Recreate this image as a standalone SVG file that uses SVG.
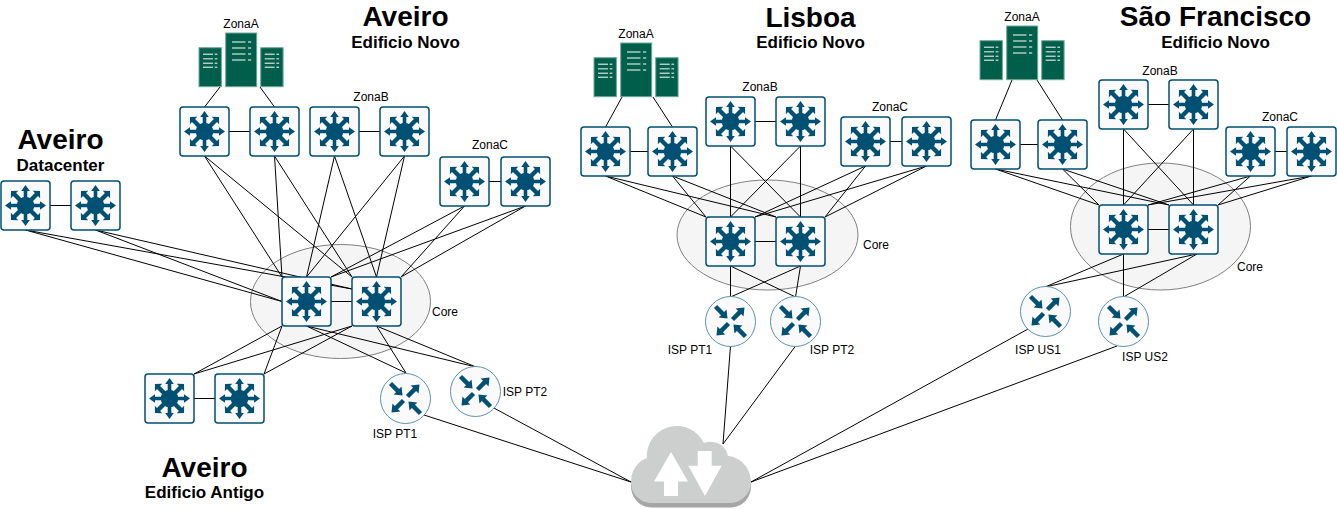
<svg xmlns="http://www.w3.org/2000/svg" xmlns:xlink="http://www.w3.org/1999/xlink" width="1337" height="509" viewBox="0 0 1337 509">
<style>
text{font-family:"Liberation Sans",Arial,sans-serif;fill:#000;text-anchor:middle}
.t{font-size:28px;font-weight:bold}
.s{font-size:17px;font-weight:bold}
.l{font-size:12px}
.core{fill:#f5f5f5;stroke:#808080;stroke-width:1}
#connectors line{stroke:#000;stroke-width:1;fill:none}
.box{fill:#fafafa;stroke:#005073;stroke-width:1.5}
.rc{fill:#fafafa;stroke:#5b93ad;stroke-width:1}
.ic{fill:#005073}
.srv{fill:#005f4b;stroke:#6fa89a;stroke-width:1}
.w{stroke:#fff;stroke-width:1;fill:none}
.g{stroke:#9fc4ba;stroke-width:1.6;fill:none}
</style>
<defs>
<polygon id="ar" class="ic" points="-1.8,0 -1.8,-14.5 -4.3,-14.5 0,-20.5 4.3,-14.5 1.8,-14.5 1.8,0"/>
<polygon id="ad" class="ic" points="-2.2,0 -2.2,-15.5 -5.2,-15.5 0,-20.5 5.2,-15.5 2.2,-15.5 2.2,0"/>
<g id="sw">
<rect class="box" x="0" y="0" width="49" height="49" rx="3"/>
<g transform="translate(24.5 24.5)">
<use xlink:href="#ar"/><use xlink:href="#ar" transform="rotate(90)"/><use xlink:href="#ar" transform="rotate(180)"/><use xlink:href="#ar" transform="rotate(270)"/>
<use xlink:href="#ad" transform="rotate(45)"/><use xlink:href="#ad" transform="rotate(135)"/><use xlink:href="#ad" transform="rotate(225)"/><use xlink:href="#ad" transform="rotate(315)"/>
<circle class="ic" r="8.8"/>
</g>
</g>
<polygon id="ra" class="ic" points="0,-2.2 10,-2.2 10,-5.6 17,0 10,5.6 10,2.2 0,2.2"/>
<g id="rt">
<circle class="rc" r="25"/>
<use xlink:href="#ra" transform="translate(-15 -15) rotate(45)"/>
<use xlink:href="#ra" transform="translate(2 -2) rotate(-45)"/>
<use xlink:href="#ra" transform="translate(-2 2) rotate(135)"/>
<use xlink:href="#ra" transform="translate(15 15) rotate(225)"/>
</g>
<g id="srvS">
<rect class="srv" width="22.4" height="39"/>
<path class="w" d="M4 6.500H14M15.700 6.500H18.400M15.700 15.500H18.400M4 19.500H14M15.700 19.500H18.400"/>
<path class="g" d="M4 11H14M15.700 11H18.400"/>
<path class="w" d="M4 15.500H14"/>
</g>
<g id="srv">
<use xlink:href="#srvS" x="0" y="14.700"/>
<rect class="srv" x="26.700" width="31" height="53.700"/>
<path class="w" d="M33 9H46.500M49 9H52.200M33 21H46.500M49 21H52.200M33 27H46.500M49 27H52.200M49 15H52.200"/>
<path class="g" d="M33 15H46.500"/>
<use xlink:href="#srvS" x="61.700" y="14.700"/>
</g>
</defs>

<g id="core-ellipses">
<ellipse class="core" cx="340.500" cy="301.500" rx="90" ry="57"/>
<ellipse class="core" cx="767.500" cy="235" rx="90.500" ry="55"/>
<ellipse class="core" cx="1160.500" cy="226.500" rx="90" ry="63.500"/>
</g>

<g id="connectors">
<line x1="220" y1="87" x2="204.500" y2="107"/><line x1="260" y1="87" x2="274.500" y2="107"/>
<line x1="229" y1="131.500" x2="250" y2="131.500"/><line x1="359" y1="131.500" x2="380" y2="131.500"/><line x1="489" y1="181.500" x2="501" y2="181.500"/><line x1="50" y1="205.500" x2="71" y2="205.500"/><line x1="331" y1="301.500" x2="352" y2="301.500"/><line x1="194" y1="398.500" x2="215" y2="398.500"/>
<line x1="204.500" y1="156" x2="282" y2="277"/><line x1="274.500" y1="156" x2="282" y2="277"/>
<line x1="334.500" y1="156" x2="306.500" y2="277"/><line x1="404.500" y1="156" x2="306.500" y2="277"/>
<line x1="204.500" y1="156" x2="352" y2="277"/><line x1="274.500" y1="156" x2="352" y2="277"/>
<line x1="334.500" y1="156" x2="376.500" y2="277"/><line x1="404.500" y1="156" x2="376.500" y2="277"/>
<line x1="464.500" y1="206" x2="331" y2="277"/><line x1="464.500" y1="206" x2="401" y2="277"/>
<line x1="525.500" y1="206" x2="331" y2="277"/><line x1="525.500" y1="206" x2="401" y2="277"/>
<line x1="25.500" y1="230" x2="282" y2="301.500"/><line x1="95.500" y1="230" x2="282" y2="301.500"/>
<line x1="25.500" y1="230" x2="352" y2="289"/><line x1="95.500" y1="230" x2="352" y2="289"/>
<line x1="282" y1="326" x2="194" y2="374"/><line x1="282" y1="326" x2="264" y2="374"/>
<line x1="352" y1="326" x2="194" y2="374"/><line x1="352" y1="326" x2="264" y2="374"/>
<line x1="306.500" y1="326" x2="406" y2="373"/><line x1="306.500" y1="326" x2="476" y2="367"/>
<line x1="376.500" y1="326" x2="406" y2="373"/><line x1="376.500" y1="326" x2="476" y2="367"/>
<line x1="424" y1="415" x2="631" y2="482"/><line x1="492" y1="407" x2="631" y2="482"/>
<line x1="622" y1="97" x2="605.500" y2="127"/><line x1="653" y1="97" x2="672.500" y2="127"/>
<line x1="630" y1="151.500" x2="648" y2="151.500"/><line x1="755" y1="121.500" x2="776" y2="121.500"/><line x1="890" y1="141.500" x2="902" y2="141.500"/><line x1="755" y1="241.500" x2="776" y2="241.500"/>
<line x1="605.500" y1="176" x2="706" y2="217"/><line x1="605.500" y1="176" x2="776" y2="217"/>
<line x1="672.500" y1="176" x2="706" y2="217"/><line x1="672.500" y1="176" x2="776" y2="217"/>
<line x1="730.500" y1="146" x2="730.500" y2="217"/><line x1="730.500" y1="146" x2="800.500" y2="217"/>
<line x1="800.500" y1="146" x2="730.500" y2="217"/><line x1="800.500" y1="146" x2="800.500" y2="217"/>
<line x1="865.500" y1="166" x2="755" y2="217"/><line x1="865.500" y1="166" x2="825" y2="217"/>
<line x1="926.500" y1="166" x2="755" y2="217"/><line x1="926.500" y1="166" x2="825" y2="217"/>
<line x1="730.500" y1="266" x2="730.500" y2="297"/><line x1="730.500" y1="266" x2="795.500" y2="297"/>
<line x1="800.500" y1="266" x2="730.500" y2="297"/><line x1="800.500" y1="266" x2="795.500" y2="297"/>
<line x1="730.500" y1="346" x2="723" y2="444"/><line x1="795.500" y1="346" x2="723" y2="444"/>
<line x1="1012" y1="80" x2="995.500" y2="120"/><line x1="1037" y1="80" x2="1062.500" y2="120"/>
<line x1="1020" y1="144.500" x2="1038" y2="144.500"/><line x1="1148" y1="104.500" x2="1169" y2="104.500"/><line x1="1275" y1="151.500" x2="1287" y2="151.500"/><line x1="1148" y1="229.500" x2="1169" y2="229.500"/>
<line x1="995.500" y1="169" x2="1099" y2="205"/><line x1="995.500" y1="169" x2="1169" y2="205"/>
<line x1="1062.500" y1="169" x2="1099" y2="205"/><line x1="1062.500" y1="169" x2="1169" y2="205"/>
<line x1="1123.500" y1="129" x2="1123.500" y2="205"/><line x1="1123.500" y1="129" x2="1193.500" y2="205"/>
<line x1="1193.500" y1="129" x2="1123.500" y2="205"/><line x1="1193.500" y1="129" x2="1193.500" y2="205"/>
<line x1="1250.500" y1="176" x2="1148" y2="205"/><line x1="1250.500" y1="176" x2="1218" y2="205"/>
<line x1="1311.500" y1="176" x2="1148" y2="205"/><line x1="1311.500" y1="176" x2="1218" y2="205"/>
<line x1="1123.500" y1="254" x2="1045" y2="287"/><line x1="1123.500" y1="254" x2="1123.500" y2="297"/>
<line x1="1197" y1="254" x2="1045" y2="287"/><line x1="1197" y1="254" x2="1123.500" y2="297"/>
<line x1="1028" y1="329" x2="751" y2="482"/><line x1="1117" y1="346" x2="751" y2="482"/>
</g>

<g id="aveiro-servers"><use xlink:href="#srv" x="199" y="33"/></g>
<g id="av-sw1"><use xlink:href="#sw" x="180" y="107"/></g>
<g id="av-sw2"><use xlink:href="#sw" x="250" y="107"/></g>
<g id="av-sw3"><use xlink:href="#sw" x="310" y="107"/></g>
<g id="av-sw4"><use xlink:href="#sw" x="380" y="107"/></g>
<g id="av-sw5"><use xlink:href="#sw" x="440" y="157"/></g>
<g id="av-sw6"><use xlink:href="#sw" x="501" y="157"/></g>
<g id="dc-sw1"><use xlink:href="#sw" x="1" y="181"/></g>
<g id="dc-sw2"><use xlink:href="#sw" x="71" y="181"/></g>
<g id="av-core1"><use xlink:href="#sw" x="282" y="277"/></g>
<g id="av-core2"><use xlink:href="#sw" x="352" y="277"/></g>
<g id="ant-sw1"><use xlink:href="#sw" x="145" y="374"/></g>
<g id="ant-sw2"><use xlink:href="#sw" x="215" y="374"/></g>
<g id="av-isp1"><use xlink:href="#rt" x="405.500" y="398.500"/></g>
<g id="av-isp2"><use xlink:href="#rt" x="475.500" y="391.500"/></g>

<g id="lisboa-servers"><use xlink:href="#srv" x="594" y="43"/></g>
<g id="li-sw1"><use xlink:href="#sw" x="581" y="127"/></g>
<g id="li-sw2"><use xlink:href="#sw" x="648" y="127"/></g>
<g id="li-sw3"><use xlink:href="#sw" x="706" y="97"/></g>
<g id="li-sw4"><use xlink:href="#sw" x="776" y="97"/></g>
<g id="li-sw5"><use xlink:href="#sw" x="841" y="117"/></g>
<g id="li-sw6"><use xlink:href="#sw" x="902" y="117"/></g>
<g id="li-core1"><use xlink:href="#sw" x="706" y="217"/></g>
<g id="li-core2"><use xlink:href="#sw" x="776" y="217"/></g>
<g id="li-isp1"><use xlink:href="#rt" x="730.500" y="321.500"/></g>
<g id="li-isp2"><use xlink:href="#rt" x="795.500" y="321.500"/></g>

<g id="sf-servers"><use xlink:href="#srv" x="980" y="26"/></g>
<g id="sf-sw1"><use xlink:href="#sw" x="971" y="120"/></g>
<g id="sf-sw2"><use xlink:href="#sw" x="1038" y="120"/></g>
<g id="sf-sw3"><use xlink:href="#sw" x="1099" y="80"/></g>
<g id="sf-sw4"><use xlink:href="#sw" x="1169" y="80"/></g>
<g id="sf-sw5"><use xlink:href="#sw" x="1226" y="127"/></g>
<g id="sf-sw6"><use xlink:href="#sw" x="1287" y="127"/></g>
<g id="sf-core1"><use xlink:href="#sw" x="1099" y="205"/></g>
<g id="sf-core2"><use xlink:href="#sw" x="1169" y="205"/></g>
<g id="sf-isp1"><use xlink:href="#rt" x="1045.500" y="311.500"/></g>
<g id="sf-isp2"><use xlink:href="#rt" x="1123.500" y="321.500"/></g>

<g id="internet-cloud">
<path fill="#a6a6a6" d="M631 486C631 499 641 507.500 652 507.500H730C741 507.500 751 499 751 486V480H631Z"/>
<path fill="#cdcfcf" d="M631 482C631 470 638 461 647 458C646 439 661 426 677 426C689 426 699 433 704 443C714 439 726 445 728 456C741 457 751 469 751 482C751 494 741 503 730 503H652C640 503 631 494 631 482Z"/>
<polygon fill="#fff" points="671,452 688,481.500 678,481.500 678,496 664,496 664,481.500 654,481.500"/>
<polygon fill="#fff" points="697.700,451 711.700,451 711.700,465.700 721.700,465.700 705,496 688.300,465.700 697.700,465.700"/>
</g>

<g id="labels">
<text class="t" x="405.500" y="26">Aveiro</text><text class="s" x="405.500" y="48">Edificio Novo</text>
<text class="t" x="60.500" y="149">Aveiro</text><text class="s" x="60.500" y="171">Datacenter</text>
<text class="t" x="204.500" y="477">Aveiro</text><text class="s" x="204.500" y="498">Edificio Antigo</text>
<text class="t" x="810.500" y="27">Lisboa</text><text class="s" x="810.500" y="48">Edificio Novo</text>
<text class="t" x="1215.500" y="26">São Francisco</text><text class="s" x="1215.500" y="48">Edificio Novo</text>
<text class="l" x="241" y="28">ZonaA</text><text class="l" x="371" y="101">ZonaB</text><text class="l" x="490" y="149">ZonaC</text><text class="l" x="445" y="316">Core</text>
<text class="l" x="395" y="438">ISP PT1</text><text class="l" x="525" y="396">ISP PT2</text>
<text class="l" x="636" y="38">ZonaA</text><text class="l" x="760" y="91">ZonaB</text><text class="l" x="890" y="111">ZonaC</text><text class="l" x="876" y="249">Core</text>
<text class="l" x="690" y="354">ISP PT1</text><text class="l" x="832" y="354">ISP PT2</text>
<text class="l" x="1022" y="21">ZonaA</text><text class="l" x="1160" y="75">ZonaB</text><text class="l" x="1280" y="121">ZonaC</text><text class="l" x="1250" y="271">Core</text>
<text class="l" x="1038" y="354">ISP US1</text><text class="l" x="1145" y="361">ISP US2</text>
</g>
</svg>
